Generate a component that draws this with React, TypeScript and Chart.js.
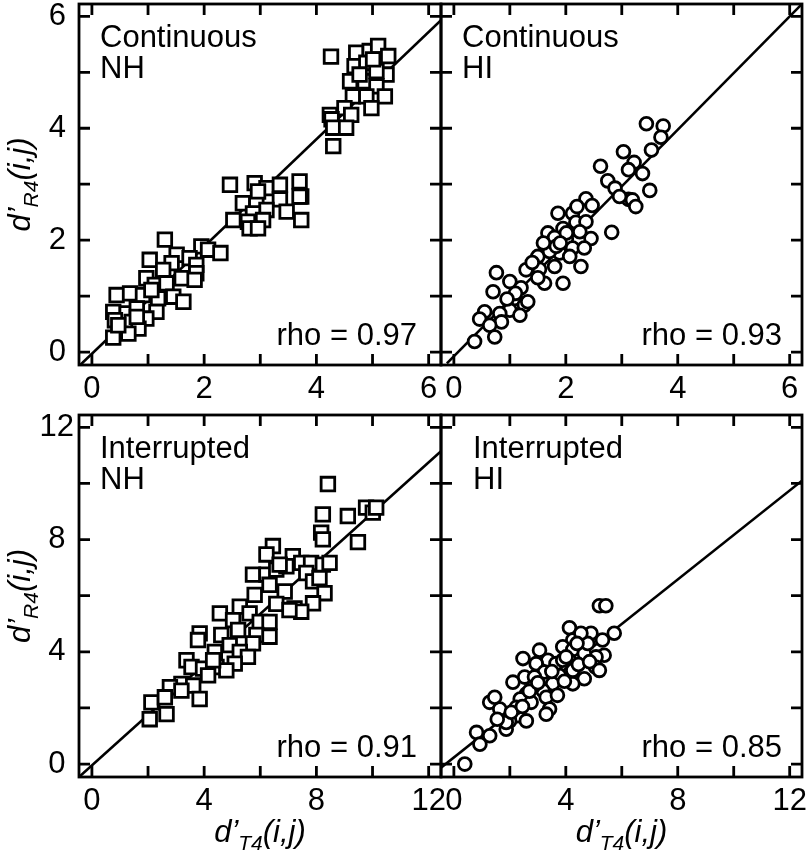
import React, { useEffect, useRef } from 'react';
import { Chart, registerables } from 'chart.js';

Chart.register(...registerables);

const FONT = "'Liberation Sans', Arial, Helvetica, sans-serif";

// ---------- Axis ticks ----------
const smallTicks = [0, 1, 2, 3, 4, 5, 6];
const smallLabels = [0, 2, 4, 6];
const smallRange = [-0.23, 6.22];
const largeTicks = [0, 2, 4, 6, 8, 10, 12];
const largeLabels = [0, 4, 8, 12];
const largeRange = [-0.46, 12.44];

// ---------- Continuous, NH (squares) ----------
const contNH: [number, number][] = [
  [4.26, 5.28], [4.71, 5.35], [4.95, 5.38], [5.10, 5.47], [5.28, 5.29], [4.68, 5.11], [4.89, 5.17],
  [5.25, 4.96], [4.60, 4.84], [4.86, 4.84], [5.07, 4.75], [4.65, 4.57], [4.89, 4.57], [5.22, 4.57],
  [4.98, 4.36], [4.50, 4.36], [4.62, 4.24], [4.24, 4.24], [4.27, 4.16], [4.30, 4.01], [4.53, 4.01],
  [4.30, 3.68], [5.07, 5.02], [4.77, 4.96], [5.01, 5.23],
  [2.46, 2.99], [2.90, 3.02], [3.11, 2.93], [3.35, 2.99], [3.70, 3.05], [3.73, 2.78], [3.35, 2.73],
  [2.96, 2.87], [2.69, 2.66], [2.93, 2.63], [3.11, 2.54], [2.87, 2.48], [3.47, 2.51], [2.52, 2.36],
  [2.78, 2.33], [3.05, 2.36], [3.73, 2.36], [2.81, 2.21], [2.96, 2.21], [3.70, 2.78],
  [1.30, 2.01], [1.95, 1.89], [2.07, 1.83], [2.29, 1.77], [1.03, 1.65], [1.51, 1.74], [1.74, 1.68],
  [1.42, 1.59], [1.86, 1.56], [1.27, 1.47], [0.97, 1.32], [1.60, 1.32], [1.86, 1.41], [1.83, 1.29],
  [1.12, 1.20], [1.33, 1.23], [0.44, 1.02], [0.68, 1.05], [0.91, 1.02], [1.18, 0.96], [1.45, 0.99],
  [1.63, 0.90], [1.06, 1.11], [0.38, 0.72], [0.62, 0.69], [0.80, 0.78], [1.15, 0.72], [0.97, 0.60],
  [0.41, 0.57], [0.71, 0.54], [0.83, 0.42], [0.65, 0.33], [0.38, 0.26], [0.47, 0.48], [0.80, 0.63],
];
const contNHFit: [number, number][] = [[-0.23, -0.25], [6.22, 5.93]];

// ---------- Continuous, HI (circles) ----------
const contHI: [number, number][] = [
  [3.44, 4.08], [3.74, 4.04], [3.70, 3.84], [3.53, 3.61], [3.03, 3.58], [3.22, 3.39], [3.12, 3.26],
  [3.37, 3.19], [2.62, 3.32], [2.75, 3.06], [2.88, 2.93], [3.50, 2.89], [3.12, 2.73], [3.19, 2.72],
  [3.25, 2.60], [2.96, 2.78], [2.82, 2.14], [2.36, 2.74], [2.47, 2.62], [2.12, 2.48], [1.86, 2.48],
  [2.18, 2.32], [2.36, 2.33], [1.95, 2.21], [1.68, 2.13], [1.80, 2.05], [2.45, 2.03], [2.01, 2.02],
  [2.12, 1.86], [2.33, 1.86], [1.65, 1.83], [1.50, 1.71], [1.89, 1.77], [2.07, 1.71], [2.27, 1.53],
  [1.29, 1.47], [1.53, 1.48], [1.80, 1.53], [1.62, 1.23], [1.95, 1.23], [1.50, 1.33], [0.76, 1.42],
  [1.00, 1.26], [1.20, 1.15], [0.70, 1.08], [1.09, 0.96], [1.26, 0.84], [1.32, 0.90], [1.00, 0.75],
  [1.18, 0.66], [0.82, 0.69], [0.55, 0.72], [0.46, 0.59], [0.85, 0.54], [0.64, 0.48], [0.73, 0.27],
  [0.37, 0.19], [1.71, 1.80], [1.83, 1.89], [2.01, 2.13], [1.40, 1.60], [1.60, 1.95], [1.10, 1.05],
  [2.20, 2.60], [1.90, 1.95], [0.95, 0.95], [2.25, 2.15],
];
const contHIFit: [number, number][] = [[-0.125, -0.2], [6.22, 6.22]];

// ---------- Interrupted, NH (squares) ----------
const intNH: [number, number][] = [
  [8.41, 9.98], [8.23, 8.90], [9.12, 8.84], [9.77, 9.14], [10.01, 8.96], [10.13, 9.14], [9.48, 7.91],
  [8.17, 8.25], [8.23, 8.01], [6.45, 7.77], [6.22, 7.47], [7.16, 7.41], [7.46, 7.17], [7.81, 7.17],
  [8.23, 7.11], [8.47, 7.17], [5.74, 6.75], [6.22, 6.75], [6.57, 6.93], [6.93, 7.05], [7.64, 6.81],
  [7.88, 6.51], [8.11, 6.63], [6.33, 6.39], [5.80, 6.03], [6.87, 6.15], [8.29, 6.09], [7.88, 5.73],
  [7.22, 5.55], [7.46, 5.43], [6.57, 5.71], [5.27, 5.61], [4.56, 5.37], [5.03, 5.13], [5.62, 5.37],
  [5.98, 5.07], [6.33, 5.07], [5.21, 4.78], [4.61, 4.60], [3.84, 4.66], [3.78, 4.42], [5.86, 4.60],
  [6.33, 4.54], [5.74, 4.30], [4.91, 4.24], [4.38, 4.00], [5.27, 4.00], [5.56, 3.82], [5.09, 3.58],
  [3.37, 3.70], [3.55, 3.46], [3.96, 3.40], [4.44, 3.46], [4.79, 3.34], [4.14, 3.16], [3.19, 2.86],
  [3.61, 2.80], [2.78, 2.74], [3.84, 2.32], [2.12, 2.20], [2.60, 2.38], [2.66, 1.78], [2.06, 1.60],
  [3.19, 2.62], [4.32, 3.70], [6.69, 7.11], [7.04, 5.49],
];
const intNHFit: [number, number][] = [[-0.46, -0.46], [12.44, 11.15]];

// ---------- Interrupted, HI (circles) ----------
const intHI: [number, number][] = [
  [5.20, 5.64], [5.43, 5.64], [4.13, 4.86], [4.90, 4.66], [5.73, 4.66], [5.31, 4.42], [4.25, 4.42],
  [3.89, 4.18], [4.25, 4.08], [3.06, 4.06], [2.47, 3.76], [3.36, 3.70], [5.37, 3.88], [5.08, 3.82],
  [4.13, 3.70], [2.94, 3.58], [3.24, 3.28], [3.77, 3.16], [4.25, 3.34], [5.06, 3.46], [5.20, 3.34],
  [4.66, 3.04], [4.25, 2.86], [2.11, 2.92], [2.53, 3.10], [2.88, 3.10], [3.53, 2.86], [3.18, 2.62],
  [3.30, 2.38], [2.59, 2.50], [2.37, 2.32], [2.76, 2.20], [1.28, 2.20], [1.64, 1.96], [2.29, 1.72],
  [2.59, 1.54], [3.42, 1.96], [3.30, 1.78], [1.99, 1.54], [1.87, 1.24], [1.28, 1.01], [0.81, 1.13],
  [0.93, 0.71], [0.39, 0.00], [1.46, 2.38], [3.65, 3.58], [4.66, 3.94], [3.89, 3.70], [4.78, 4.30],
  [2.82, 2.74], [2.23, 2.02], [1.87, 1.48], [4.54, 4.66], [4.01, 3.82], [3.50, 3.30], [2.70, 2.60],
  [3.00, 2.90], [4.45, 3.55], [2.05, 1.85], [3.95, 2.95], [4.85, 3.65], [2.45, 2.05], [1.55, 1.60],
  [3.70, 2.45], [4.40, 4.30],
];
const intHIFit: [number, number][] = [[-0.46, -0.13], [12.44, 10.1]];

// ---------- Text ----------
const rhoTexts = ['rho = 0.97', 'rho = 0.93', 'rho = 0.91', 'rho = 0.85'];
const conditionTexts = [['Continuous', 'NH'], ['Continuous', 'HI'], ['Interrupted', 'NH'], ['Interrupted', 'HI']];
const yTitleSub = 'R4';
const xTitleSub = 'T4';

type PanelCfg = {
  points: [number, number][];
  fit: [number, number][];
  marker: 'rect' | 'circle';
  ticks: number[];
  labels: number[];
  range: number[];
  texts: string[];
  rho: string;
  area: { left: number; top: number; right: number; bottom: number };
  showYLabels: boolean;
  yTitle: boolean;
  xTitle: boolean;
  textDx: number;
  yLabelPad: number;
};

const W = 806;
const H = 855;
const XAXIS_H = 50;

const panels: PanelCfg[] = [
  {
    points: contNH, fit: contNHFit, marker: 'rect', ticks: smallTicks, labels: smallLabels, range: smallRange,
    texts: conditionTexts[0], rho: rhoTexts[0], area: { left: 79, top: 4, right: 441, bottom: 365 },
    showYLabels: true, yTitle: true, xTitle: false, textDx: 21, yLabelPad: 13,
  },
  {
    points: contHI, fit: contHIFit, marker: 'circle', ticks: smallTicks, labels: smallLabels, range: smallRange,
    texts: conditionTexts[1], rho: rhoTexts[1], area: { left: 441, top: 4, right: 802, bottom: 365 },
    showYLabels: false, yTitle: false, xTitle: false, textDx: 21, yLabelPad: 13,
  },
  {
    points: intNH, fit: intNHFit, marker: 'rect', ticks: largeTicks, labels: largeLabels, range: largeRange,
    texts: conditionTexts[2], rho: rhoTexts[2], area: { left: 79, top: 415, right: 441, bottom: 777 },
    showYLabels: true, yTitle: true, xTitle: true, textDx: 21, yLabelPad: 5,
  },
  {
    points: intHI, fit: intHIFit, marker: 'circle', ticks: largeTicks, labels: largeLabels, range: largeRange,
    texts: conditionTexts[3], rho: rhoTexts[3], area: { left: 441, top: 415, right: 802, bottom: 777 },
    showYLabels: false, yTitle: false, xTitle: true, textDx: 32, yLabelPad: 5,
  },
];

function drawSubTitle(ctx: CanvasRenderingContext2D, cx: number, cy: number, sub: string, rotate: boolean) {
  const big = `italic 31px ${FONT}`;
  const small = `italic 21px ${FONT}`;
  const parts = [
    { t: 'd\u2019', f: big, dy: 0 },
    { t: sub, f: small, dy: 8 },
    { t: '(i,j)', f: big, dy: 0 },
  ];
  ctx.save();
  ctx.translate(cx, cy);
  if (rotate) ctx.rotate(-Math.PI / 2);
  let total = 0;
  for (const p of parts) {
    ctx.font = p.f;
    total += ctx.measureText(p.t).width;
  }
  let x = -total / 2;
  ctx.fillStyle = '#000';
  ctx.textAlign = 'left';
  ctx.textBaseline = 'alphabetic';
  for (const p of parts) {
    ctx.font = p.f;
    ctx.fillText(p.t, x, p.dy);
    x += ctx.measureText(p.t).width;
  }
  ctx.restore();
}

function Panel({ cfg }: { cfg: PanelCfg }) {
  const ref = useRef<HTMLCanvasElement | null>(null);
  useEffect(() => {
    if (!ref.current) return;
    const a = cfg.area;
    const padding = {
      left: cfg.showYLabels ? 0 : a.left,
      right: W - a.right,
      top: a.top,
      bottom: H - a.bottom - XAXIS_H,
    };
    const framePlugin = {
      id: 'frame' + a.left + a.top,
      afterDatasetsDraw(chart: any) {
        const { ctx, chartArea: ca, scales } = chart;
        ctx.save();
        ctx.strokeStyle = '#000';
        ctx.lineWidth = 2.8;
        ctx.strokeRect(ca.left, ca.top, ca.right - ca.left, ca.bottom - ca.top);
        const TL = 11;
        ctx.beginPath();
        for (const v of cfg.ticks) {
          const x = scales.x.getPixelForValue(v);
          ctx.moveTo(x, ca.bottom);
          ctx.lineTo(x, ca.bottom - TL);
          ctx.moveTo(x, ca.top);
          ctx.lineTo(x, ca.top + TL);
          const y = scales.y.getPixelForValue(v);
          ctx.moveTo(ca.left, y);
          ctx.lineTo(ca.left + TL, y);
          ctx.moveTo(ca.right, y);
          ctx.lineTo(ca.right - TL, y);
        }
        ctx.stroke();
        ctx.fillStyle = '#000';
        ctx.font = `31px ${FONT}`;
        ctx.textBaseline = 'alphabetic';
        ctx.textAlign = 'left';
        cfg.texts.forEach((t, i) => ctx.fillText(t, ca.left + cfg.textDx, ca.top + 43 + i * 31));
        ctx.textAlign = 'right';
        ctx.fillText(cfg.rho, ca.right - (cfg.showYLabels ? 24 : 20), ca.bottom - 20);
        if (cfg.yTitle) drawSubTitle(ctx, 30, (ca.top + ca.bottom) / 2, yTitleSub, true);
        if (cfg.xTitle) drawSubTitle(ctx, (ca.left + ca.right) / 2, 842, xTitleSub, false);
        ctx.restore();
      },
    };
    const tickFont = { family: FONT, size: 31 };
    const chart = new Chart(ref.current, {
      type: 'scatter',
      data: {
        datasets: [
          {
            data: cfg.points.map(([x, y]) => ({ x, y })),
            pointStyle: cfg.marker,
            pointRadius: cfg.marker === 'rect' ? 9.6 : 6.4,
            pointBackgroundColor: '#fff',
            pointBorderColor: '#000',
            pointBorderWidth: 2.8,
            showLine: false,
            clip: false,
          } as any,
          {
            type: 'line',
            data: cfg.fit.map(([x, y]) => ({ x, y })),
            borderColor: '#000',
            borderWidth: 2.6,
            pointRadius: 0,
            showLine: true,
            fill: false,
            clip: 0,
          } as any,
        ],
      },
      options: {
        responsive: false,
        animation: false,
        devicePixelRatio: 1,
        events: [],
        layout: { padding, autoPadding: false } as any,
        plugins: { legend: { display: false }, tooltip: { enabled: false } },
        scales: {
          x: {
            type: 'linear',
            position: 'bottom',
            min: cfg.range[0],
            max: cfg.range[1],
            bounds: 'data',
            afterBuildTicks: (s: any) => { s.ticks = cfg.ticks.map((v) => ({ value: v })); },
            afterFit: (s: any) => {
              s.height = XAXIS_H;
              s.paddingLeft = 0; s.paddingRight = 0; s.paddingTop = 0; s.paddingBottom = 0;
            },
            grid: { display: false, drawTicks: false },
            border: { display: false },
            ticks: {
              autoSkip: false, maxRotation: 0, minRotation: 0, padding: 6, color: '#000', font: tickFont,
              callback: (v: any) => (cfg.labels.includes(Number(v)) ? String(v) : ''),
            },
          },
          y: {
            type: 'linear',
            position: 'left',
            display: cfg.showYLabels,
            min: cfg.range[0],
            max: cfg.range[1],
            bounds: 'data',
            afterBuildTicks: (s: any) => { s.ticks = cfg.ticks.map((v) => ({ value: v })); },
            afterFit: (s: any) => {
              s.width = cfg.showYLabels ? a.left : 0;
              s.paddingLeft = 0; s.paddingRight = 0; s.paddingTop = 0; s.paddingBottom = 0;
            },
            grid: { display: false, drawTicks: false },
            border: { display: false },
            ticks: {
              autoSkip: false, maxRotation: 0, minRotation: 0, padding: cfg.yLabelPad, crossAlign: 'center',
              color: '#000', font: tickFont,
              callback: (v: any) => (cfg.labels.includes(Number(v)) ? String(v) : ''),
            },
          },
        },
      } as any,
      plugins: [framePlugin],
    });
    return () => chart.destroy();
  }, [cfg]);
  return (
    <canvas ref={ref} width={W} height={H} style={{ position: 'absolute', left: 0, top: 0, width: W, height: H }} />
  );
}

export default function App() {
  return (
    <div style={{ position: 'absolute', left: 0, top: 0, width: W, height: H, background: '#fff', overflow: 'hidden' }}>
      {panels.map((p, i) => (
        <Panel key={i} cfg={p} />
      ))}
    </div>
  );
}
